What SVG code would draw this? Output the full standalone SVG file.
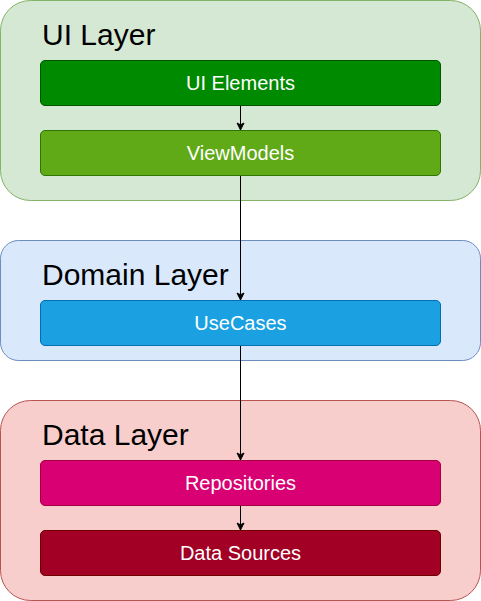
<svg xmlns="http://www.w3.org/2000/svg" width="481" height="601" viewBox="0 0 481 601">
<style>
.title{font-family:"Liberation Sans",Arial,sans-serif;font-size:30px;fill:#000}
.lbl{font-family:"Liberation Sans",Arial,sans-serif;font-size:20px;fill:#fff;text-anchor:middle}
.edge{stroke:#000;stroke-width:1;fill:none}
</style>
<defs>
<marker id="arr" markerUnits="userSpaceOnUse" markerWidth="10" markerHeight="10" viewBox="0 0 10 10" refX="8" refY="5" orient="auto">
<path d="M1,1.5 L8,5 L1,8.5 L2.8,5 Z" fill="#000" stroke="#000" stroke-width="1"/>
</marker>
</defs>
<g id="ui-layer">
<rect x="0.5" y="0.5" width="480" height="200" rx="30" fill="#d5e8d4" stroke="#82b366"/>
<text class="title" x="42" y="45">UI Layer</text>
</g>
<g id="domain-layer">
<rect x="0.5" y="240.5" width="480" height="120" rx="18" fill="#dae8fc" stroke="#6c8ebf"/>
<text class="title" x="42" y="285">Domain Layer</text>
</g>
<g id="data-layer">
<rect x="0.5" y="400.5" width="480" height="200" rx="30" fill="#f8cecc" stroke="#b85450"/>
<text class="title" x="42" y="445">Data Layer</text>
</g>
<g id="ui-elements">
<rect x="40.5" y="60.5" width="400" height="45" rx="4.5" fill="#008a00" stroke="#005700"/>
<text class="lbl" x="240.5" y="90">UI Elements</text>
</g>
<g id="viewmodels">
<rect x="40.5" y="130.5" width="400" height="45" rx="4.5" fill="#60a917" stroke="#2d7600"/>
<text class="lbl" x="240.5" y="160">ViewModels</text>
</g>
<g id="usecases">
<rect x="40.5" y="300.5" width="400" height="45" rx="4.5" fill="#1ba1e2" stroke="#006eaf"/>
<text class="lbl" x="240.5" y="330">UseCases</text>
</g>
<g id="repositories">
<rect x="40.5" y="460.5" width="400" height="45" rx="4.5" fill="#d80073" stroke="#a50040"/>
<text class="lbl" x="240.5" y="490">Repositories</text>
</g>
<g id="data-sources">
<rect x="40.5" y="530.5" width="400" height="45" rx="4.5" fill="#a20025" stroke="#6f0000"/>
<text class="lbl" x="240.5" y="560">Data Sources</text>
</g>
<g id="connectors">
<path class="edge" d="M240.5,106 L240.5,130" marker-end="url(#arr)"/>
<path class="edge" d="M240.5,176 L240.5,300" marker-end="url(#arr)"/>
<path class="edge" d="M240.5,346 L240.5,460" marker-end="url(#arr)"/>
<path class="edge" d="M240.5,506 L240.5,530" marker-end="url(#arr)"/>
</g>
</svg>
